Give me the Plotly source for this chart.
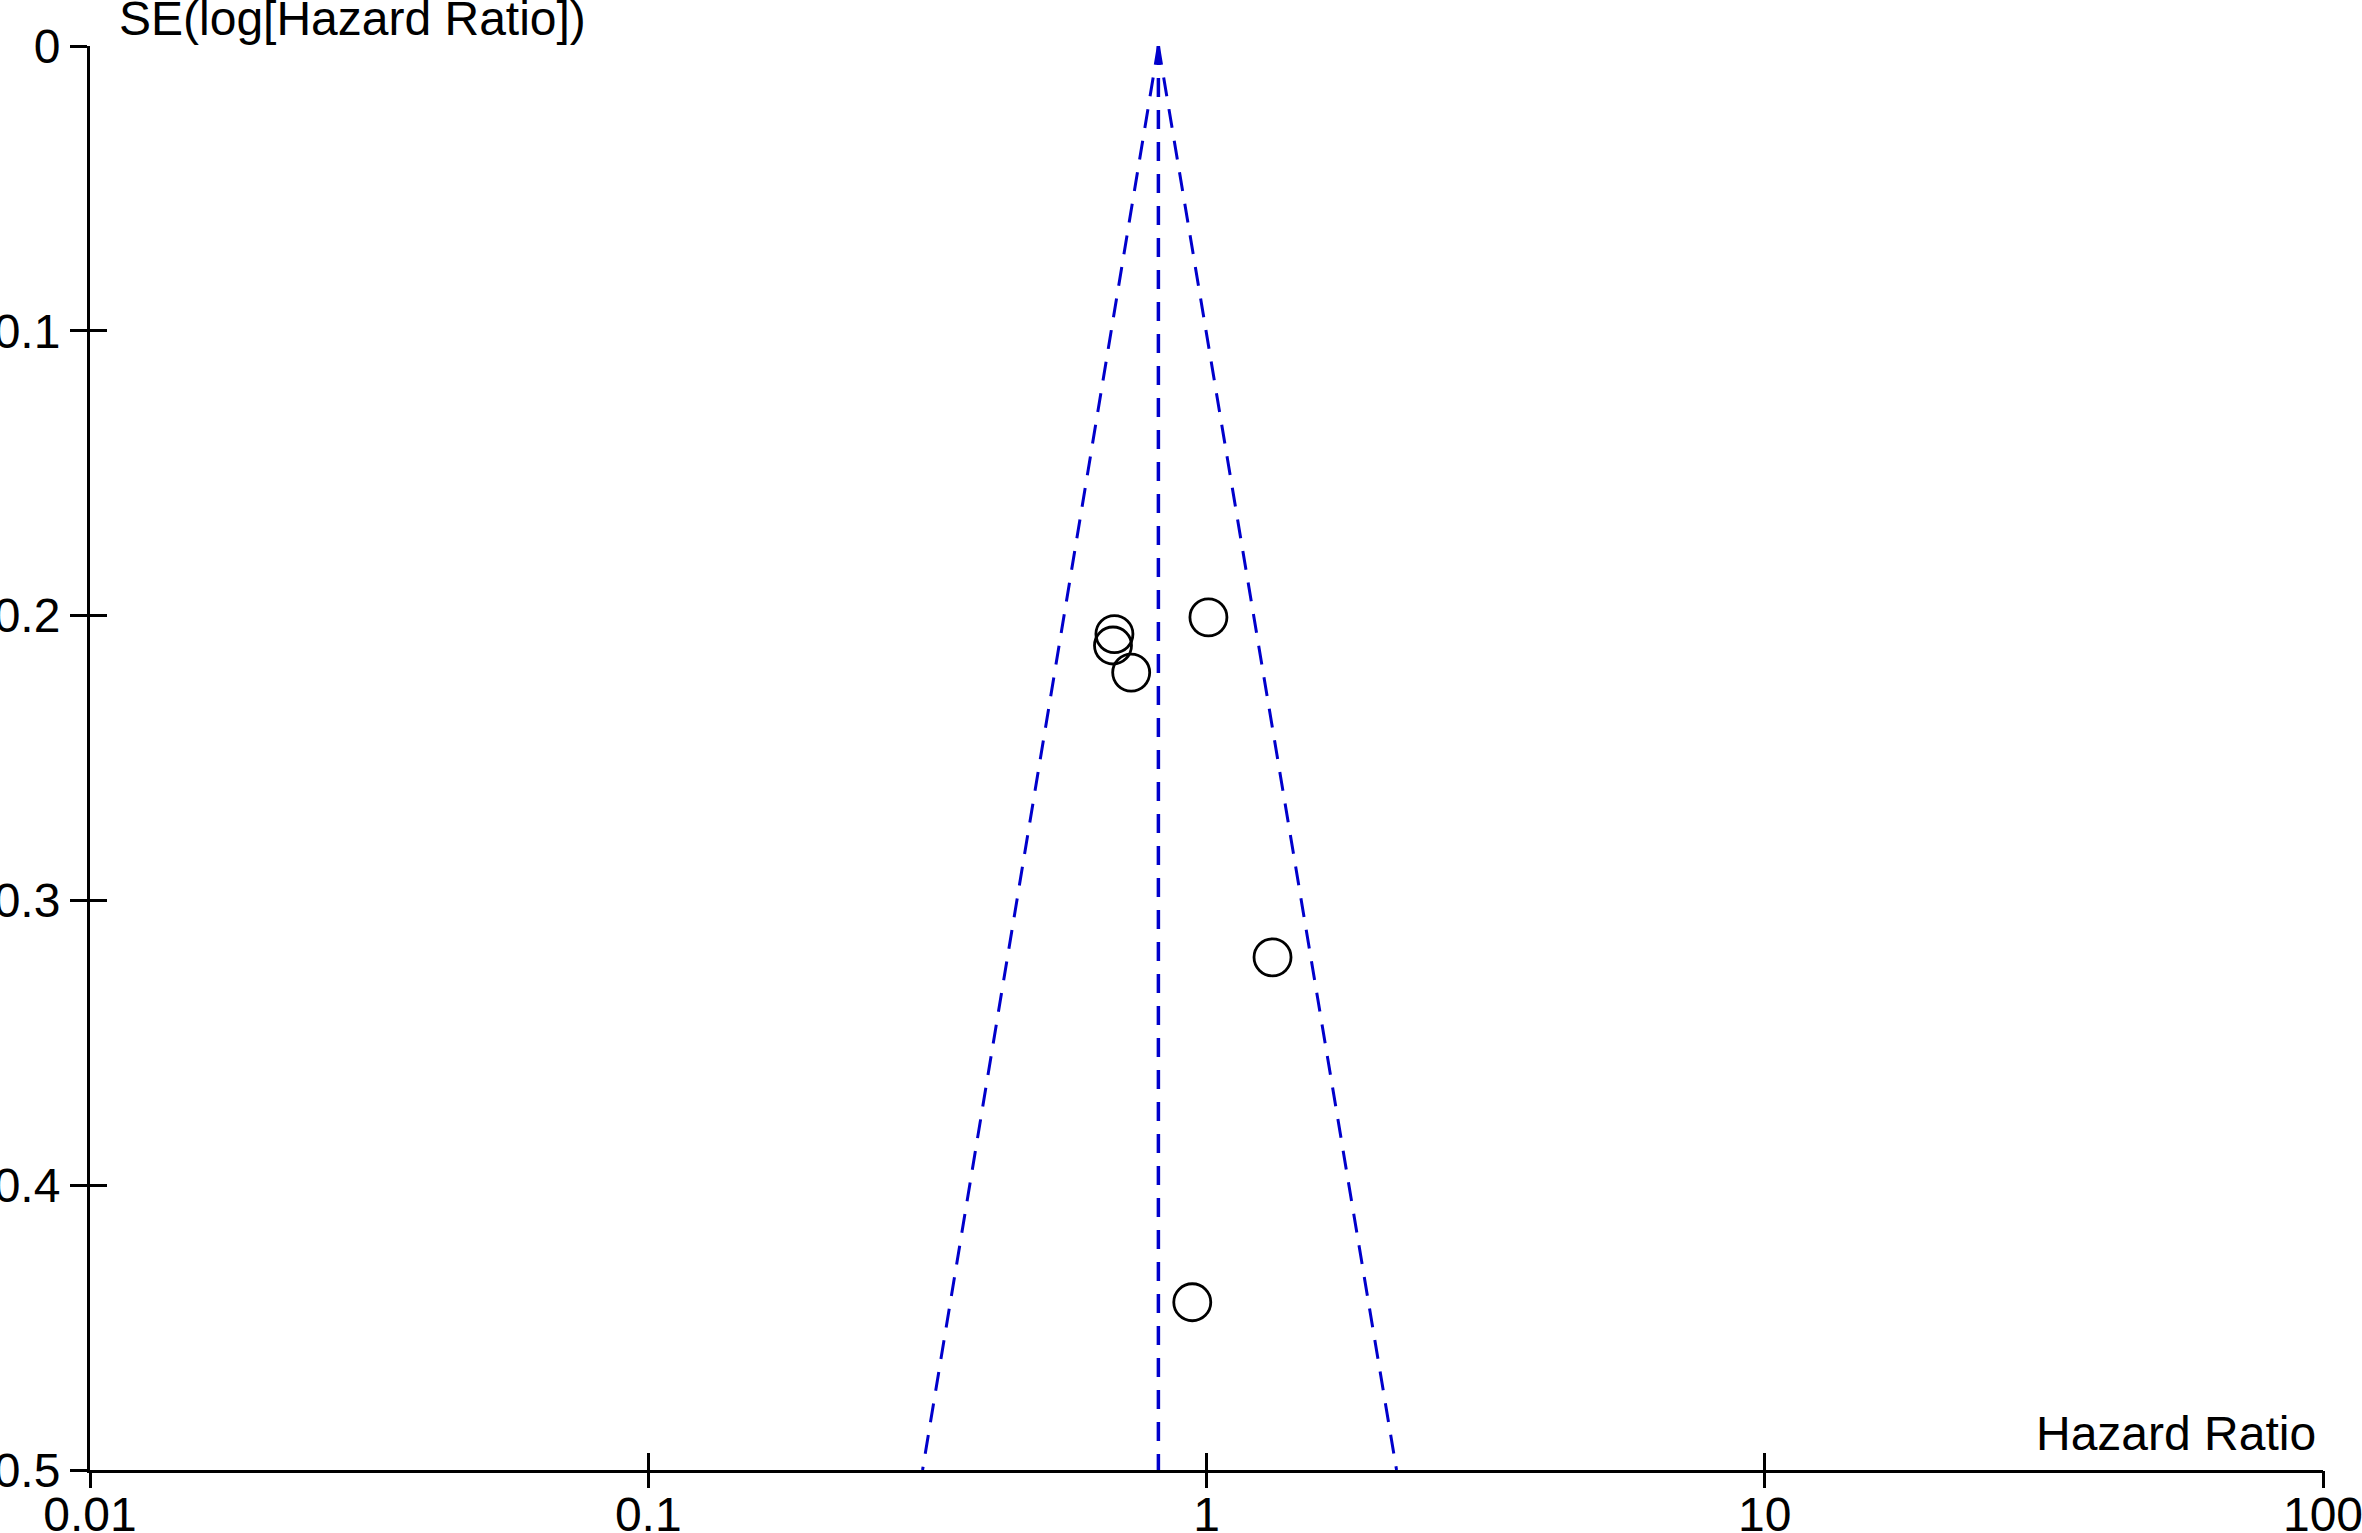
import plotly.graph_objects as go

# Data
hazard_ratio = [1.008, 0.684, 0.680, 0.733, 1.313, 0.943]
se_log_hr = [0.2006, 0.2065, 0.2105, 0.220, 0.320, 0.4411]

pooled_hr = 0.82
se_axis = [0.0, 0.5]
funnel_lower = [0.82, 0.31]
funnel_upper = [0.82, 2.19]

x_tickvals = [0.01, 0.1, 1, 10, 100]
x_ticktext = ["0.01", "0.1", "1", "10", "100"]
y_tickvals = [0, 0.1, 0.2, 0.3, 0.4, 0.5]
y_ticktext = ["0", "0.1", "0.2", "0.3", "0.4", "0.5"]

FONT = "Liberation Sans, Arial, sans-serif"
BLUE = "#0000CC"
DASH = "19px,13px"

# plot area in pixels (reference)
L, R, T, B = 90, 2323, 46, 1470
W, H = 2362, 1533
PW, PH = R - L, B - T

fig = go.Figure()

fig.add_trace(go.Scatter(x=funnel_lower, y=se_axis, mode="lines",
                         line=dict(color=BLUE, width=3, dash=DASH),
                         hoverinfo="skip", showlegend=False))
fig.add_trace(go.Scatter(x=funnel_upper, y=se_axis, mode="lines",
                         line=dict(color=BLUE, width=3, dash=DASH),
                         hoverinfo="skip", showlegend=False))
fig.add_trace(go.Scatter(x=[pooled_hr, pooled_hr], y=se_axis, mode="lines",
                         line=dict(color=BLUE, width=3.5, dash=DASH),
                         hoverinfo="skip", showlegend=False))
fig.add_trace(go.Scatter(x=hazard_ratio, y=se_log_hr, mode="markers",
                         marker=dict(symbol="circle-open", size=37, color="black",
                                     line=dict(width=2.8, color="black")),
                         cliponaxis=False, showlegend=False))
# invisible trace to create overlay axes (other half of the crossing ticks)
fig.add_trace(go.Scatter(x=[1], y=[0.25], xaxis="x2", yaxis="y2", mode="markers",
                         marker=dict(opacity=0), hoverinfo="skip", showlegend=False))

axis_common = dict(showgrid=False, zeroline=False, automargin=False)
tick_common = dict(ticklen=17, tickwidth=3, tickcolor="black")
label_font = dict(family=FONT, size=48, color="black")

fig.update_layout(
    width=W, height=H,
    margin=dict(l=L, r=W - R, t=T, b=H - B, autoexpand=False),
    paper_bgcolor="white", plot_bgcolor="white",
    font=dict(family=FONT, size=48, color="black"),
    xaxis=dict(type="log", range=[-2, 2], tickvals=x_tickvals, ticktext=x_ticktext,
               ticks="inside", ticklabeloverflow="allow",
               showline=True, linewidth=3, linecolor="black",
               tickfont=label_font, **tick_common, **axis_common),
    yaxis=dict(range=[0.5, 0], tickvals=y_tickvals, ticktext=y_ticktext,
               ticks="outside", ticklabeloverflow="allow",
               showline=True, linewidth=3, linecolor="black",
               tickfont=label_font, **tick_common, **axis_common),
    xaxis2=dict(type="log", range=[-2, 2], tickvals=x_tickvals, overlaying="x",
                anchor="y", side="bottom", ticks="outside",
                showticklabels=False, showline=False, **tick_common, **axis_common),
    yaxis2=dict(range=[0.5, 0], tickvals=y_tickvals, overlaying="y", anchor="x",
                side="left", ticks="inside",
                showticklabels=False, showline=False, **tick_common, **axis_common),
    annotations=[
        dict(text="SE(log[Hazard Ratio])", xref="paper", yref="paper",
             x=(117 - L) / PW, y=1 + (T - 19) / PH, xanchor="left", yanchor="middle",
             showarrow=False, font=label_font),
        dict(text="Hazard Ratio", xref="paper", yref="paper",
             x=(2318 - L) / PW, y=(B - 1433) / PH, xanchor="right", yanchor="middle",
             showarrow=False, font=label_font),
    ],
)

fig.write_html("out.html", config={"displayModeBar": False},
               post_script="document.body.style.margin='0';")
